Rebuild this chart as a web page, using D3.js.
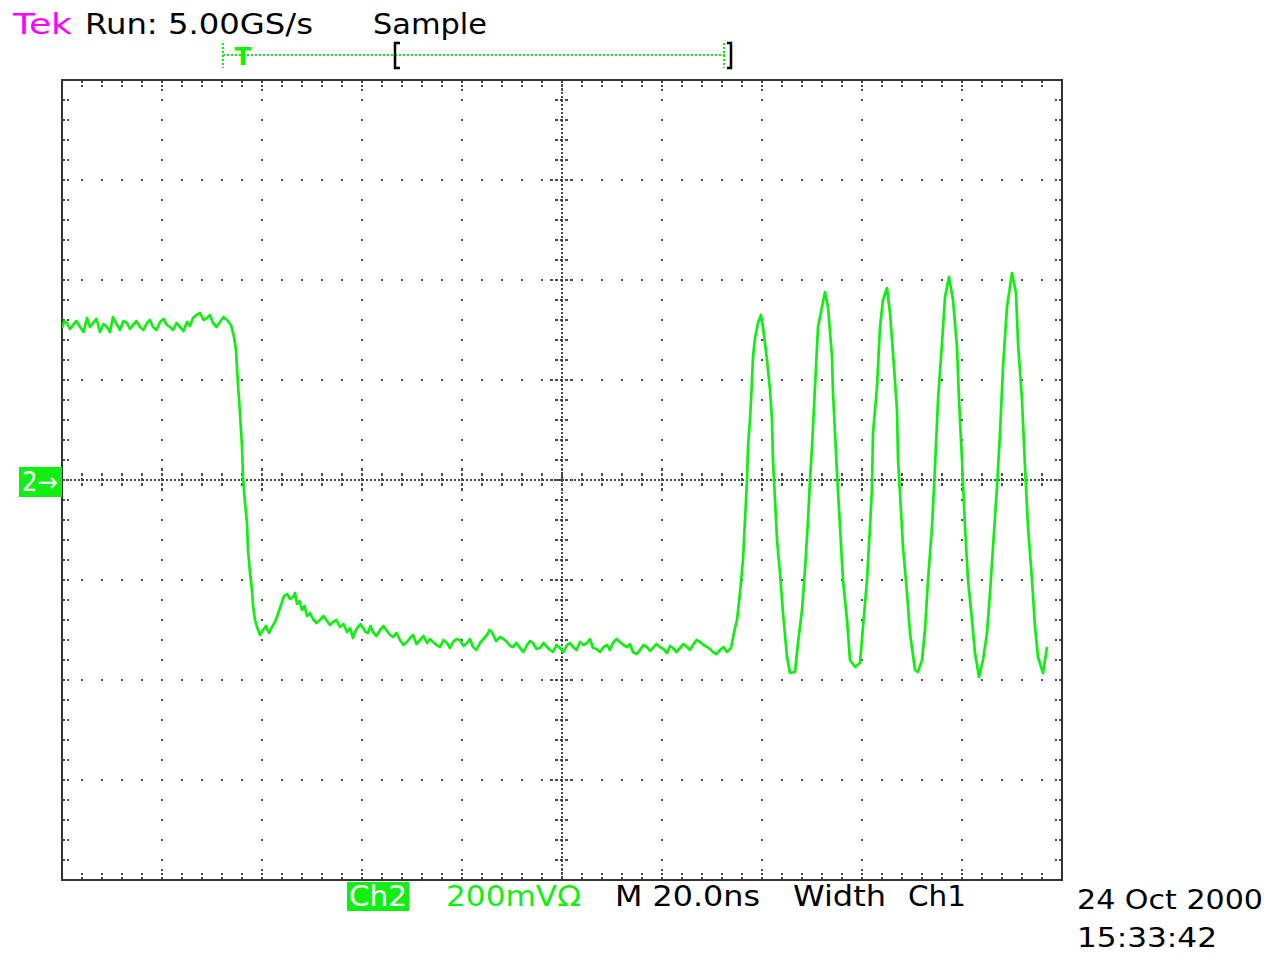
<!DOCTYPE html>
<html>
<head>
<meta charset="utf-8">
<script src="https://cdn.jsdelivr.net/npm/d3@7"></script>
<style>
  html, body { margin: 0; padding: 0; background: #ffffff; }
  svg { display: block; }
  text { font-family: "DejaVu Sans", Verdana, sans-serif; }
</style>
</head>
<body>
<svg id="scope" width="1274" height="956"></svg>
<script>
// Channel 2 record, split into segments: time in ns from the left screen edge, voltage in mV.
// High level before the falling edge
const highNs = [
  0, 0.5, 1.0, 1.6, 2.2, 2.9, 3.6, 4.3, 5.0, 5.6,
  6.2, 6.9, 7.6, 8.3, 9.0, 9.6, 10.2, 10.9, 11.6, 12.3,
  13.0, 13.6, 14.2, 14.9, 15.6, 16.3, 17.0, 17.6, 18.2, 18.9,
  19.6, 20.3, 21.0, 21.6, 22.2, 22.9, 23.6, 24.3, 25.0, 25.6,
  26.2, 26.9, 27.6, 28.3, 29.0, 29.6, 30.2, 30.9, 31.6, 32.3,
  33.0, 33.8, 34.4
];
const highMv = [
  304, 318, 314, 302, 310, 318, 306, 296, 324, 306,
  314, 322, 296, 312, 306, 296, 326, 312, 300, 318,
  314, 302, 310, 318, 306, 300, 314, 320, 306, 300,
  316, 322, 310, 306, 300, 314, 306, 298, 316, 308,
  324, 330, 334, 320, 324, 330, 314, 306, 316, 326,
  320, 310, 286
];
// Falling edge, undershoot and ringing bump
const edgeNs = [
  34.8, 35.2, 35.6, 36.0, 36.2, 36.6, 37.0, 37.2, 37.6, 38.0,
  38.2, 38.6, 39.0, 39.6, 40.2, 40.8, 41.4, 42.0, 42.6, 43.2,
  43.8, 44.4, 45.0, 45.6, 46.2
];
const edgeMv = [
  260, 190, 134, 66, 6, -46, -86, -140, -186, -220,
  -250, -280, -294, -310, -300, -292, -306, -294, -284, -268,
  -250, -232, -228, -238, -234
];
// Low level settling
const lowNs = [
  46.6, 47.0, 47.5, 48.0, 48.5, 49.0, 49.6, 50.2, 50.9, 51.6,
  52.3, 53.0, 53.6, 54.2, 54.9, 55.6, 56.3, 57.0, 57.6, 58.2,
  58.7, 59.2, 59.7, 60.2, 60.7, 61.2, 61.7, 62.2, 62.9, 63.6,
  64.3, 65.0, 65.6, 66.2, 66.9, 67.6, 68.3, 69.0, 69.6, 70.2,
  70.9, 71.6, 72.3, 73.0, 73.6, 74.2, 74.9, 75.6, 76.3, 77.0,
  77.6, 78.2, 78.9, 79.6, 80.3, 81.0, 81.6, 82.2, 82.9, 83.6,
  84.3, 85.0, 85.5, 86.0, 86.8, 87.6, 88.3, 89.0, 89.6, 90.2,
  90.9, 91.6, 92.3, 93.0, 93.6, 94.2, 94.9, 95.6, 96.3, 97.0,
  97.6, 98.2, 98.9, 99.6, 100.3, 101.0, 101.6, 102.2, 102.9, 103.6,
  104.3, 105.0, 105.6, 106.2, 106.9, 107.6, 108.3, 109.0, 109.6, 110.2,
  110.9, 111.6, 112.3, 113.0, 113.6, 114.2, 114.9, 115.6, 116.3, 117.0,
  117.6, 118.2, 118.9, 119.6, 120.3, 121.0, 121.6, 122.2, 122.9, 123.6,
  124.3, 125.0, 125.6, 126.2, 126.9, 127.6, 128.3, 129.0, 129.6, 130.2,
  130.9, 131.6, 132.3, 133.0, 133.4, 133.8
];
const lowMv = [
  -226, -248, -242, -260, -252, -272, -266, -278, -286, -280,
  -272, -282, -290, -284, -280, -294, -288, -304, -296, -316,
  -302, -294, -288, -296, -304, -306, -292, -304, -312, -300,
  -292, -302, -310, -314, -306, -320, -330, -324, -316, -310,
  -328, -320, -312, -326, -318, -324, -330, -334, -320, -326,
  -336, -324, -318, -320, -332, -326, -318, -334, -340, -326,
  -318, -310, -300, -304, -322, -314, -318, -324, -332, -334,
  -326, -336, -344, -330, -322, -326, -338, -336, -326, -334,
  -340, -344, -330, -336, -344, -330, -326, -334, -340, -324,
  -330, -326, -318, -336, -338, -344, -334, -330, -340, -326,
  -318, -324, -330, -334, -328, -344, -348, -340, -330, -334,
  -342, -336, -328, -334, -338, -346, -332, -336, -344, -336,
  -328, -334, -340, -330, -320, -324, -330, -334, -338, -344,
  -348, -340, -334, -344, -340, -336
];
// Oscillation burst
const burstNs = [
  134.6, 135.0, 135.6, 136.2, 136.6, 137.0, 137.2, 137.6, 138.0, 138.2, 138.6, 139.2,
  139.8, 140.2, 141.0, 141.6, 142.0, 142.2, 142.6, 143.0, 143.6, 144.2, 145.0, 145.6,
  146.6, 147.2, 148.0, 148.6, 149.2, 149.6, 150.0, 150.6, 151.2, 152.0, 152.6, 153.2,
  154.0, 154.2, 154.6, 155.0, 155.6, 156.2, 157.0, 157.6, 158.6, 159.6, 160.2, 161.0,
  161.6, 162.0, 162.2, 163.0, 163.6, 164.2, 165.0, 165.6, 166.2, 167.0, 167.2, 167.6,
  168.2, 169.0, 169.6, 170.6, 171.2, 172.0, 172.6, 173.2, 174.0, 174.6, 175.2, 176.0,
  176.6, 177.4, 178.2, 179.0, 179.4, 180.0, 180.6, 181.2, 182.0, 182.6, 183.4, 184.2,
  185.0, 185.6, 186.2, 187.0, 187.6, 188.2, 189.0, 190.0, 190.8, 191.2, 192.0, 192.6,
  193.2, 194.0, 194.6, 195.2, 196.2, 197.0
];
const burstMv = [
  -296, -280, -226, -160, -80, 0, 66, 120, 200, 246, 284, 314,
  330, 306, 240, 180, 120, 40, -40, -120, -186, -266, -354, -386,
  -384, -326, -260, -180, -80, 0, 66, 186, 306, 346, 376, 346,
  246, 174, 94, 14, -94, -200, -280, -360, -374, -366, -294, -200,
  -94, -14, 94, 186, 306, 360, 384, 334, 254, 140, 40, -26,
  -134, -226, -306, -380, -384, -360, -300, -200, -94, 26, 160, 274,
  366, 406, 360, 266, 160, 40, -94, -200, -280, -346, -394, -360,
  -306, -226, -134, -14, 94, 226, 346, 414, 374, 274, 160, 26,
  -94, -200, -294, -354, -386, -334
];

// Screen settings
const horizDivs = 10, vertDivs = 8, minorPerDiv = 5;
const nsPerDiv = 20, mvPerDiv = 200;

const headerLabels = [
  { text: "Tek", x: 13, y: 34, len: 59, fill: "#ff00ff" },
  { text: "Run: 5.00GS/s", x: 85, y: 34, len: 228, fill: "#000" },
  { text: "Sample", x: 373, y: 34, len: 114, fill: "#000" }
];
const footerLabels = [
  { text: "200mV\u03A9", x: 446, y: 906, len: 135, fill: "#11ee11" },
  { text: "M 20.0ns", x: 615, y: 906, len: 145, fill: "#000" },
  { text: "Width", x: 793, y: 906, len: 93, fill: "#000" },
  { text: "Ch1", x: 908, y: 906, len: 58, fill: "#000" },
  { text: "24 Oct 2000", x: 1077, y: 909, len: 186, fill: "#000" },
  { text: "15:33:42", x: 1077, y: 947, len: 140, fill: "#000" }
];

const GREEN = "#11ee11";
const GRID = "#4a4a4a";
const svg = d3.select("#scope");
svg.append("rect").attr("width", 1274).attr("height", 956).attr("fill", "#fff");

const plotLeft = 62, plotTop = 80, plotRight = 1062, plotBottom = 880;
const x = d3.scaleLinear().domain([0, horizDivs * nsPerDiv]).range([plotLeft, plotRight]);
const y = d3.scaleLinear().domain([-vertDivs / 2 * mvPerDiv, vertDivs / 2 * mvPerDiv]).range([plotBottom, plotTop]);

const minorNs = nsPerDiv / minorPerDiv, minorMv = mvPerDiv / minorPerDiv;
const xMinor = d3.range(1, horizDivs * minorPerDiv).map(i => i * minorNs);
const yMinor = d3.range(1, vertDivs * minorPerDiv).map(i => -vertDivs / 2 * mvPerDiv + i * minorMv);
const xMajor = d3.range(1, horizDivs).map(i => i * nsPerDiv).filter(t => t !== 100);
const yMajor = d3.range(1, vertDivs).map(i => -vertDivs / 2 * mvPerDiv + i * mvPerDiv).filter(v => v !== 0);

const grid = svg.append("g").attr("fill", GRID);
const dot = (px, py) => grid.append("rect").attr("x", Math.round(px) - 1).attr("y", Math.round(py) - 1).attr("width", 2).attr("height", 2);

// dotted major lines
xMajor.forEach(t => yMinor.forEach(v => dot(x(t), y(v))));
yMajor.forEach(v => xMinor.forEach(t => dot(x(t), y(v))));

// dense centre cross with tick marks
const cx = x(100), cy = y(0);
const cross = svg.append("g").attr("stroke", GRID).attr("stroke-width", 2).attr("fill", "none");
cross.append("line").attr("x1", plotLeft).attr("x2", plotRight).attr("y1", cy).attr("y2", cy).attr("stroke-dasharray", "2,2");
cross.append("line").attr("x1", cx).attr("x2", cx).attr("y1", plotTop).attr("y2", plotBottom).attr("stroke-dasharray", "2,2");
xMinor.forEach(t => {
  const h = (t % nsPerDiv === 0) ? 12 : 7;
  cross.append("line").attr("x1", x(t)).attr("x2", x(t)).attr("y1", cy - h).attr("y2", cy + h).attr("stroke-dasharray", "3,2");
});
yMinor.forEach(v => {
  const h = (v % mvPerDiv === 0) ? 12 : 7;
  cross.append("line").attr("y1", y(v)).attr("y2", y(v)).attr("x1", cx - h).attr("x2", cx + h).attr("stroke-dasharray", "3,2");
});

// edge ticks
const edge = svg.append("g").attr("stroke", GRID).attr("stroke-width", 2).attr("stroke-dasharray", "2,2");
xMinor.forEach(t => {
  const h = (t % nsPerDiv === 0) ? 10 : 6;
  edge.append("line").attr("x1", x(t)).attr("x2", x(t)).attr("y1", plotTop + 1).attr("y2", plotTop + 1 + h);
  edge.append("line").attr("x1", x(t)).attr("x2", x(t)).attr("y1", plotBottom - 1).attr("y2", plotBottom - 1 - h);
});
yMinor.forEach(v => {
  edge.append("line").attr("y1", y(v)).attr("y2", y(v)).attr("x1", plotLeft + 1).attr("x2", plotLeft + 7);
  edge.append("line").attr("y1", y(v)).attr("y2", y(v)).attr("x1", plotRight - 1).attr("x2", plotRight - 8);
});

// graticule frame
svg.append("rect").attr("x", plotLeft).attr("y", plotTop).attr("width", plotRight - plotLeft).attr("height", plotBottom - plotTop)
  .attr("fill", "none").attr("stroke", "#333").attr("stroke-width", 2);

// waveform
const timeNs = highNs.concat(edgeNs, lowNs, burstNs);
const ch2mV = highMv.concat(edgeMv, lowMv, burstMv);
svg.append("clipPath").attr("id", "plotClip").append("rect")
  .attr("x", plotLeft).attr("y", plotTop).attr("width", plotRight - plotLeft).attr("height", plotBottom - plotTop);
const trace = d3.line().x(d => x(d[0])).y(d => y(d[1]));
svg.append("path")
  .datum(timeNs.map((t, i) => [t, ch2mV[i]]))
  .attr("clip-path", "url(#plotClip)")
  .attr("d", trace)
  .attr("fill", "none")
  .attr("stroke", GREEN)
  .attr("stroke-width", 2.7)
  .attr("stroke-linejoin", "round");

// header text
headerLabels.forEach(d => svg.append("text").attr("x", d.x).attr("y", d.y).attr("font-size", 29)
  .attr("textLength", d.len).attr("lengthAdjust", "spacingAndGlyphs").attr("fill", d.fill).text(d.text));

// record view / trigger position bar
const bar = svg.append("g");
bar.append("line").attr("x1", 223).attr("x2", 727).attr("y1", 55).attr("y2", 55)
  .attr("stroke", GREEN).attr("stroke-width", 2).attr("stroke-dasharray", "2,2");
bar.append("line").attr("x1", 223).attr("x2", 223).attr("y1", 43).attr("y2", 68)
  .attr("stroke", GREEN).attr("stroke-width", 2).attr("stroke-dasharray", "2,2");
bar.append("line").attr("x1", 724).attr("x2", 724).attr("y1", 43).attr("y2", 68)
  .attr("stroke", GREEN).attr("stroke-width", 2).attr("stroke-dasharray", "2,2");
bar.append("text").attr("x", 243).attr("y", 65).attr("text-anchor", "middle").attr("font-size", 25)
  .attr("font-weight", "bold").attr("fill", GREEN).text("T");
bar.append("path").attr("d", "M400,43 H395 V68 H400").attr("fill", "none").attr("stroke", "#000").attr("stroke-width", 2.5);
bar.append("path").attr("d", "M727,43 H731 V68 H727").attr("fill", "none").attr("stroke", "#000").attr("stroke-width", 2.5);

// channel 2 ground marker
svg.append("rect").attr("x", 19).attr("y", 467).attr("width", 43).attr("height", 30).attr("fill", GREEN);
svg.append("text").attr("x", 22).attr("y", 491).attr("font-size", 26).attr("fill", "#fff")
  .attr("textLength", 36).attr("lengthAdjust", "spacingAndGlyphs").text("2\u2192");

// footer readouts
svg.append("rect").attr("x", 347).attr("y", 882).attr("width", 62).attr("height", 29).attr("fill", GREEN);
svg.append("text").attr("x", 349).attr("y", 906).attr("font-size", 29).attr("fill", "#fff")
  .attr("textLength", 58).attr("lengthAdjust", "spacingAndGlyphs").text("Ch2");
footerLabels.forEach(d => svg.append("text").attr("x", d.x).attr("y", d.y)
  .attr("font-size", d.y > 906 ? 27 : 29)
  .attr("textLength", d.len).attr("lengthAdjust", "spacingAndGlyphs").attr("fill", d.fill).text(d.text));
</script>
</body>
</html>
